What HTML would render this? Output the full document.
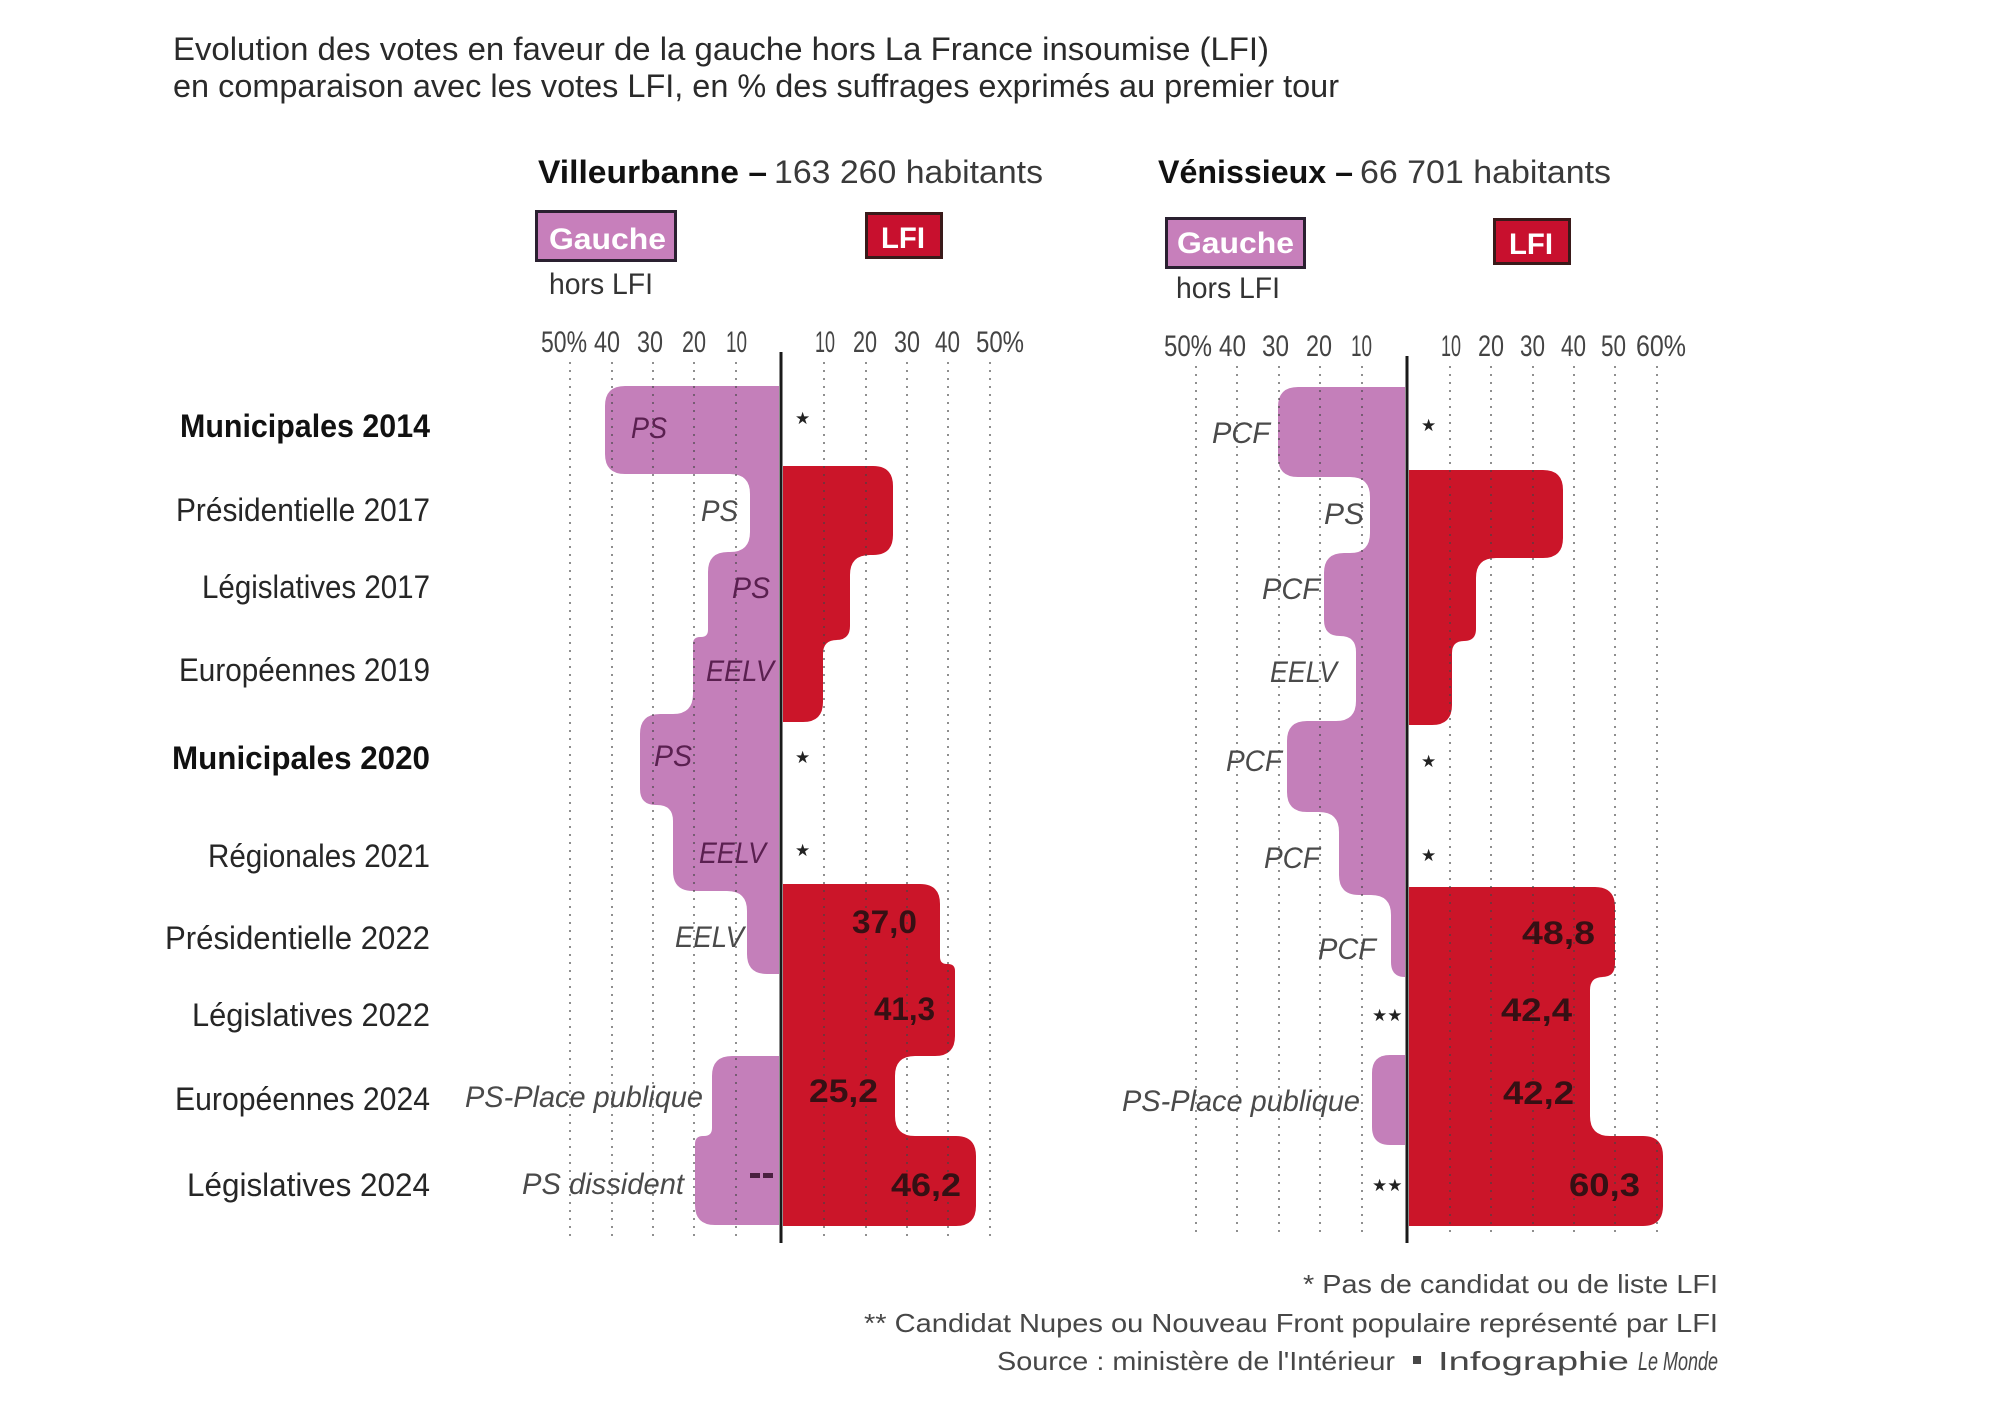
<!DOCTYPE html>
<html><head><meta charset="utf-8"><style>
html,body{margin:0;padding:0;background:#fff;}
svg{display:block;}
text{font-family:"Liberation Sans",sans-serif;}
.t{fill:#2a2a2a;font-size:32px;}
.rl{fill:#262626;font-size:32px;}
.rb{fill:#111;font-size:32px;font-weight:bold;}
.tk{fill:#444;font-size:30px;}
.pl{font-size:30px;font-style:italic;}
.pin{fill:#5a2050;}
.pout{fill:#4a4a4a;}
.val{fill:#361014;font-size:32px;font-weight:bold;}
.fn{fill:#474747;font-size:26px;}
.st{font-family:"DejaVu Sans",sans-serif;font-size:17px;fill:#222;}
</style></head><body>
<svg width="2000" height="1414" viewBox="0 0 2000 1414" xmlns="http://www.w3.org/2000/svg">
<rect width="2000" height="1414" fill="#fff"/>

<!-- Title -->
<text class="t" x="173" y="60" textLength="1096" lengthAdjust="spacingAndGlyphs">Evolution des votes en faveur de la gauche hors La France insoumise (LFI)</text>
<text class="t" x="173" y="97" textLength="1166" lengthAdjust="spacingAndGlyphs">en comparaison avec les votes LFI, en % des suffrages exprimés au premier tour</text>

<!-- Headers -->
<text x="538" y="183" font-size="32" font-weight="bold" fill="#111" textLength="229" lengthAdjust="spacingAndGlyphs">Villeurbanne –</text>
<text x="774" y="183" font-size="32" fill="#3a3a3a" textLength="269" lengthAdjust="spacingAndGlyphs">163 260 habitants</text>
<text x="1158" y="183" font-size="32" font-weight="bold" fill="#111" textLength="195" lengthAdjust="spacingAndGlyphs">Vénissieux –</text>
<text x="1360" y="183" font-size="32" fill="#3a3a3a" textLength="251" lengthAdjust="spacingAndGlyphs">66 701  habitants</text>

<!-- Legend boxes -->
<rect x="536.5" y="211.5" width="139" height="49" fill="#c77fbb" stroke="#2a2030" stroke-width="3"/>
<text x="549" y="249" font-size="30" font-weight="bold" fill="#fff" textLength="117" lengthAdjust="spacingAndGlyphs">Gauche</text>
<rect x="866.5" y="213.5" width="75" height="44" fill="#c8102e" stroke="#3a1a1a" stroke-width="3"/>
<text x="881" y="248" font-size="30" font-weight="bold" fill="#fff" textLength="44" lengthAdjust="spacingAndGlyphs">LFI</text>
<text x="549" y="294" font-size="30" fill="#333" textLength="104" lengthAdjust="spacingAndGlyphs">hors LFI</text>

<rect x="1166.5" y="218.5" width="138" height="49" fill="#c77fbb" stroke="#2a2030" stroke-width="3"/>
<text x="1177" y="253" font-size="30" font-weight="bold" fill="#fff" textLength="117" lengthAdjust="spacingAndGlyphs">Gauche</text>
<rect x="1494.5" y="219.5" width="75" height="44" fill="#c8102e" stroke="#3a1a1a" stroke-width="3"/>
<text x="1509" y="254" font-size="30" font-weight="bold" fill="#fff" textLength="44" lengthAdjust="spacingAndGlyphs">LFI</text>
<text x="1176" y="298" font-size="30" fill="#333" textLength="104" lengthAdjust="spacingAndGlyphs">hors LFI</text>

<!-- Tick labels Villeurbanne -->
<g class="tk">
<text x="541" y="352" textLength="46" lengthAdjust="spacingAndGlyphs">50%</text>
<text x="594" y="352" textLength="26" lengthAdjust="spacingAndGlyphs">40</text>
<text x="637" y="352" textLength="26" lengthAdjust="spacingAndGlyphs">30</text>
<text x="682" y="352" textLength="24" lengthAdjust="spacingAndGlyphs">20</text>
<text x="726" y="352" textLength="21" lengthAdjust="spacingAndGlyphs">10</text>
<text x="815" y="352" textLength="20" lengthAdjust="spacingAndGlyphs">10</text>
<text x="853" y="352" textLength="24" lengthAdjust="spacingAndGlyphs">20</text>
<text x="894" y="352" textLength="26" lengthAdjust="spacingAndGlyphs">30</text>
<text x="935" y="352" textLength="25" lengthAdjust="spacingAndGlyphs">40</text>
<text x="976" y="352" textLength="48" lengthAdjust="spacingAndGlyphs">50%</text>
<!-- Vénissieux -->
<text x="1164" y="356" textLength="48" lengthAdjust="spacingAndGlyphs">50%</text>
<text x="1219" y="356" textLength="27" lengthAdjust="spacingAndGlyphs">40</text>
<text x="1262" y="356" textLength="27" lengthAdjust="spacingAndGlyphs">30</text>
<text x="1306" y="356" textLength="26" lengthAdjust="spacingAndGlyphs">20</text>
<text x="1351" y="356" textLength="21" lengthAdjust="spacingAndGlyphs">10</text>
<text x="1441" y="356" textLength="20" lengthAdjust="spacingAndGlyphs">10</text>
<text x="1478" y="356" textLength="26" lengthAdjust="spacingAndGlyphs">20</text>
<text x="1520" y="356" textLength="25" lengthAdjust="spacingAndGlyphs">30</text>
<text x="1561" y="356" textLength="25" lengthAdjust="spacingAndGlyphs">40</text>
<text x="1601" y="356" textLength="25" lengthAdjust="spacingAndGlyphs">50</text>
<text x="1636" y="356" textLength="50" lengthAdjust="spacingAndGlyphs">60%</text>
</g>

<!-- Bars -->
<g fill="#c47fba">
<path d="M 779,386 L 625,386 Q 605,386 605,406 L 605,454 Q 605,474 625,474 L 730,474 Q 750,474 750,494 L 750,532 Q 750,552 730,552 L 728,552 Q 708,552 708,572 L 708,630 Q 708,637 701,637 L 700,637 Q 693,637 693,644 L 693,694 Q 693,714 673,714 L 660,714 Q 640,714 640,734 L 640,789 Q 640,805 656,805 L 657,805 Q 673,805 673,821 L 673,871 Q 673,891 693,891 L 727,891 Q 747,891 747,911 L 747,954 Q 747,974 767,974 L 779,974 Z"/>
<path d="M 779,1056 L 732,1056 Q 712,1056 712,1076 L 712,1128 Q 712,1136 704,1136 L 703,1136 Q 695,1136 695,1144 L 695,1205 Q 695,1225 715,1225 L 779,1225 Z"/>
<path d="M 1405,387 L 1298,387 Q 1278,387 1278,407 L 1278,457 Q 1278,477 1298,477 L 1350,477 Q 1370,477 1370,497 L 1370,533 Q 1370,553 1350,553 L 1344,553 Q 1324,553 1324,573 L 1324,620 Q 1324,636 1340,636 L 1340,636 Q 1356,636 1356,652 L 1356,701 Q 1356,721 1336,721 L 1307,721 Q 1287,721 1287,741 L 1287,792 Q 1287,812 1307,812 L 1319,812 Q 1339,812 1339,832 L 1339,875 Q 1339,895 1359,895 L 1371,895 Q 1391,895 1391,915 L 1391,962 Q 1391,977 1405,977 Z"/>
<path d="M 1405,1055 L 1390,1055 Q 1372,1055 1372,1073 L 1372,1127 Q 1372,1145 1390,1145 L 1405,1145 Z"/>
</g>
<g fill="#cb1529">
<path d="M 783,466 L 873,466 Q 893,466 893,486 L 893,535 Q 893,555 873,555 L 870,555 Q 850,555 850,575 L 850,626 Q 850,640 836,640 L 837,640 Q 823,640 823,654 L 823,702 Q 823,722 803,722 L 783,722 Z"/>
<path d="M 783,884 L 920,884 Q 940,884 940,904 L 940,957 Q 940,964 947,964 L 948,964 Q 955,964 955,971 L 955,1036 Q 955,1056 935,1056 L 915,1056 Q 895,1056 895,1076 L 895,1116 Q 895,1136 915,1136 L 956,1136 Q 976,1136 976,1156 L 976,1206 Q 976,1226 956,1226 L 783,1226 Z"/>
<path d="M 1409,470 L 1543,470 Q 1563,470 1563,490 L 1563,538 Q 1563,558 1543,558 L 1496,558 Q 1476,558 1476,578 L 1476,629 Q 1476,641 1464,641 L 1464,641 Q 1452,641 1452,653 L 1452,705 Q 1452,725 1432,725 L 1409,725 Z"/>
<path d="M 1409,887 L 1595,887 Q 1615,887 1615,907 L 1615,964 Q 1615,977 1602,977 L 1603,977 Q 1590,977 1590,990 L 1590,1116 Q 1590,1136 1610,1136 L 1643,1136 Q 1663,1136 1663,1156 L 1663,1206 Q 1663,1226 1643,1226 L 1409,1226 Z"/>
</g>

<!-- Gridlines -->
<g stroke="#444" stroke-opacity="0.6" stroke-width="2" stroke-dasharray="2 6">
<line x1="570" y1="362" x2="570" y2="1237"/>
<line x1="612" y1="362" x2="612" y2="1237"/>
<line x1="653" y1="362" x2="653" y2="1237"/>
<line x1="694" y1="362" x2="694" y2="1237"/>
<line x1="736" y1="362" x2="736" y2="1237"/>
<line x1="824" y1="362" x2="824" y2="1237"/>
<line x1="866" y1="362" x2="866" y2="1237"/>
<line x1="907" y1="362" x2="907" y2="1237"/>
<line x1="948" y1="362" x2="948" y2="1237"/>
<line x1="990" y1="362" x2="990" y2="1237"/>
<line x1="1196" y1="366" x2="1196" y2="1237"/>
<line x1="1237" y1="366" x2="1237" y2="1237"/>
<line x1="1279" y1="366" x2="1279" y2="1237"/>
<line x1="1320" y1="366" x2="1320" y2="1237"/>
<line x1="1362" y1="366" x2="1362" y2="1237"/>
<line x1="1450" y1="366" x2="1450" y2="1237"/>
<line x1="1491" y1="366" x2="1491" y2="1237"/>
<line x1="1533" y1="366" x2="1533" y2="1237"/>
<line x1="1574" y1="366" x2="1574" y2="1237"/>
<line x1="1615" y1="366" x2="1615" y2="1237"/>
<line x1="1657" y1="366" x2="1657" y2="1237"/>
</g>

<!-- Axes -->
<line x1="781" y1="352" x2="781" y2="1243" stroke="#1a1a1a" stroke-width="3"/>
<line x1="1407" y1="356" x2="1407" y2="1243" stroke="#1a1a1a" stroke-width="3"/>

<!-- Row labels -->
<text class="rb" x="180" y="437" textLength="250" lengthAdjust="spacingAndGlyphs">Municipales 2014</text>
<text class="rl" x="176" y="521" textLength="254" lengthAdjust="spacingAndGlyphs">Présidentielle 2017</text>
<text class="rl" x="202" y="598" textLength="228" lengthAdjust="spacingAndGlyphs">Législatives 2017</text>
<text class="rl" x="179" y="681" textLength="251" lengthAdjust="spacingAndGlyphs">Européennes 2019</text>
<text class="rb" x="172" y="769" textLength="258" lengthAdjust="spacingAndGlyphs">Municipales 2020</text>
<text class="rl" x="208" y="867" textLength="222" lengthAdjust="spacingAndGlyphs">Régionales 2021</text>
<text class="rl" x="165" y="949" textLength="265" lengthAdjust="spacingAndGlyphs">Présidentielle 2022</text>
<text class="rl" x="192" y="1026" textLength="238" lengthAdjust="spacingAndGlyphs">Législatives 2022</text>
<text class="rl" x="175" y="1110" textLength="255" lengthAdjust="spacingAndGlyphs">Européennes 2024</text>
<text class="rl" x="187" y="1196" textLength="243" lengthAdjust="spacingAndGlyphs">Législatives  2024</text>

<!-- Party labels Villeurbanne -->
<text class="pl pin" x="631" y="438" textLength="36" lengthAdjust="spacingAndGlyphs">PS</text>
<text class="pl pout" x="701" y="521" textLength="37" lengthAdjust="spacingAndGlyphs">PS</text>
<text class="pl pin" x="732" y="598" textLength="38" lengthAdjust="spacingAndGlyphs">PS</text>
<text class="pl pin" x="706" y="681" textLength="68" lengthAdjust="spacingAndGlyphs">EELV</text>
<text class="pl pin" x="654" y="766" textLength="38" lengthAdjust="spacingAndGlyphs">PS</text>
<text class="pl pin" x="699" y="863" textLength="67" lengthAdjust="spacingAndGlyphs">EELV</text>
<text class="pl pout" x="675" y="947" textLength="69" lengthAdjust="spacingAndGlyphs">EELV</text>
<text class="pl pout" x="465" y="1107" textLength="238" lengthAdjust="spacingAndGlyphs">PS-Place publique</text>
<text class="pl pout" x="522" y="1194" textLength="162" lengthAdjust="spacingAndGlyphs">PS dissident</text>
<rect x="750" y="1173" width="10" height="5" fill="#4a2040"/>
<rect x="763" y="1173" width="10" height="5" fill="#4a2040"/>

<!-- Party labels Vénissieux -->
<text class="pl pout" x="1212" y="443" textLength="58" lengthAdjust="spacingAndGlyphs">PCF</text>
<text class="pl pout" x="1324" y="524" textLength="40" lengthAdjust="spacingAndGlyphs">PS</text>
<text class="pl pout" x="1262" y="599" textLength="58" lengthAdjust="spacingAndGlyphs">PCF</text>
<text class="pl pout" x="1270" y="682" textLength="67" lengthAdjust="spacingAndGlyphs">EELV</text>
<text class="pl pout" x="1226" y="771" textLength="56" lengthAdjust="spacingAndGlyphs">PCF</text>
<text class="pl pout" x="1264" y="868" textLength="56" lengthAdjust="spacingAndGlyphs">PCF</text>
<text class="pl pout" x="1318" y="959" textLength="58" lengthAdjust="spacingAndGlyphs">PCF</text>
<text class="pl pout" x="1122" y="1111" textLength="238" lengthAdjust="spacingAndGlyphs">PS-Place publique</text>

<!-- Stars -->
<text class="st" x="795" y="424">★</text>
<text class="st" x="795" y="763">★</text>
<text class="st" x="795" y="856">★</text>
<text class="st" x="1421" y="431">★</text>
<text class="st" x="1421" y="767">★</text>
<text class="st" x="1421" y="861">★</text>
<text class="st" x="1372" y="1021">★★</text>
<text class="st" x="1372" y="1191">★★</text>

<!-- Values -->
<text class="val" x="852" y="933" textLength="65" lengthAdjust="spacingAndGlyphs">37,0</text>
<text class="val" x="874" y="1020" textLength="61" lengthAdjust="spacingAndGlyphs">41,3</text>
<text class="val" x="809" y="1102" textLength="69" lengthAdjust="spacingAndGlyphs">25,2</text>
<text class="val" x="891" y="1196" textLength="70" lengthAdjust="spacingAndGlyphs">46,2</text>
<text class="val" x="1522" y="944" textLength="73" lengthAdjust="spacingAndGlyphs">48,8</text>
<text class="val" x="1501" y="1021" textLength="71" lengthAdjust="spacingAndGlyphs">42,4</text>
<text class="val" x="1503" y="1104" textLength="71" lengthAdjust="spacingAndGlyphs">42,2</text>
<text class="val" x="1569" y="1196" textLength="71" lengthAdjust="spacingAndGlyphs">60,3</text>

<!-- Footnotes -->
<text class="fn" x="1303" y="1293" textLength="415" lengthAdjust="spacingAndGlyphs">* Pas de candidat ou de liste LFI</text>
<text class="fn" x="864" y="1332" textLength="854" lengthAdjust="spacingAndGlyphs">** Candidat Nupes ou Nouveau Front populaire représenté par LFI</text>
<text class="fn" x="997" y="1370" textLength="398" lengthAdjust="spacingAndGlyphs">Source : ministère de l'Intérieur</text>
<rect x="1413" y="1356" width="8" height="8" fill="#474747"/>
<text class="fn" x="1438" y="1370" textLength="191" lengthAdjust="spacingAndGlyphs">Infographie</text>
<text class="fn" x="1638" y="1370" font-style="italic" textLength="80" lengthAdjust="spacingAndGlyphs">Le Monde</text>
</svg>
</body></html>
